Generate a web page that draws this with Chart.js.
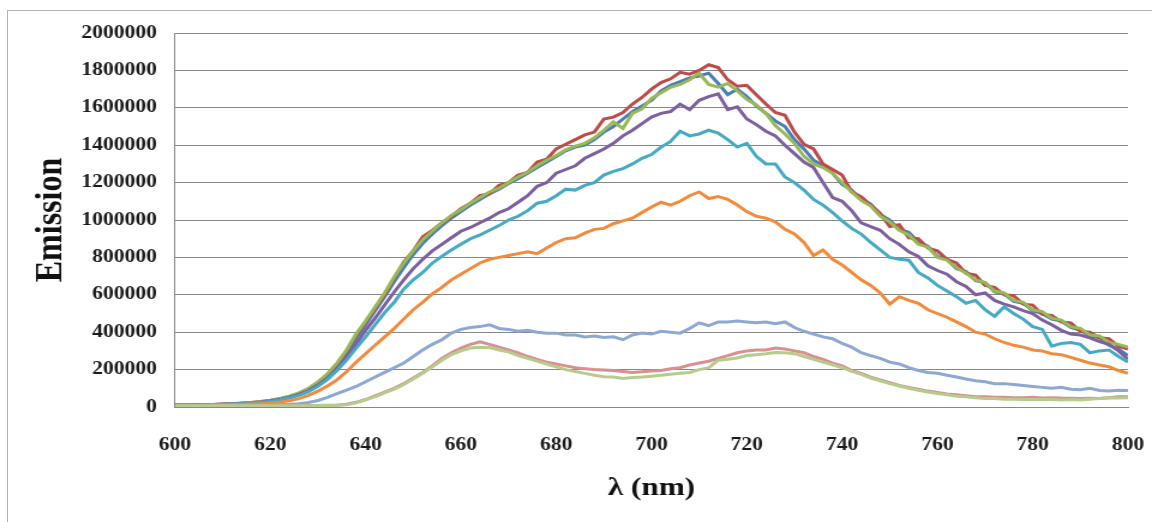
<!DOCTYPE html>
<html>
<head>
<meta charset="utf-8">
<title>Emission spectra</title>
<script src="https://cdn.jsdelivr.net/npm/chart.js@4/dist/chart.umd.min.js"></script>
<style>
  html, body { margin: 0; padding: 0; background: #fff; overflow: hidden; }
  #wrap { position: relative; width: 1152px; height: 522px; }
  /* chart is laid out at 960px and widened to the page */
  #spectra { position: absolute; left: 0; top: 0; transform: scaleX(1.2); transform-origin: 0 0; }
  #frame { position: absolute; left: 7px; top: 10px; width: 1170px; height: 540px;
           border: 1px solid #b2b2b2; pointer-events: none; }
</style>
</head>
<body>
<div id="wrap">
  <canvas id="spectra" width="960" height="522"></canvas>
  <div id="frame"></div>
</div>
<script>
// wavelength (nm), one reading every 2 nm
const wavelengths = [
  600, 602, 604, 606, 608, 610, 612, 614, 616, 618,
  620, 622, 624, 626, 628, 630, 632, 634, 636, 638,
  640, 642, 644, 646, 648, 650, 652, 654, 656, 658,
  660, 662, 664, 666, 668, 670, 672, 674, 676, 678,
  680, 682, 684, 686, 688, 690, 692, 694, 696, 698,
  700, 702, 704, 706, 708, 710, 712, 714, 716, 718,
  720, 722, 724, 726, 728, 730, 732, 734, 736, 738,
  740, 742, 744, 746, 748, 750, 752, 754, 756, 758,
  760, 762, 764, 766, 768, 770, 772, 774, 776, 778,
  780, 782, 784, 786, 788, 790, 792, 794, 796, 798,
  800
];

// emission counts, in thousands
const emissionScale = 1000;

const seriesBlue = [
  10, 11, 12, 12, 13, 15, 17, 19, 23, 27,
  33, 42, 53, 70, 92, 125, 165, 218, 285, 365,
  440, 515, 590, 670, 745, 815, 875, 925, 970, 1010,
  1045, 1080, 1110, 1140, 1165, 1195, 1220, 1250, 1280, 1310,
  1340, 1370, 1390, 1400, 1430, 1470, 1500, 1540, 1580, 1610,
  1640, 1690, 1720, 1740, 1760, 1770, 1785, 1730, 1670, 1700,
  1660, 1610, 1570, 1530, 1500, 1430, 1380, 1320, 1290, 1250,
  1190, 1160, 1110, 1085, 1030, 1000, 950, 935, 880, 860,
  805, 790, 740, 725, 675, 665, 615, 605, 565, 555,
  515, 500, 470, 460, 425, 410, 380, 370, 330, 310,
  275
];

const seriesRed = [
  12, 12, 13, 13, 14, 16, 18, 21, 24, 29,
  35, 44, 56, 72, 95, 128, 170, 228, 300, 385,
  455, 530, 600, 690, 775, 835, 910, 945, 985, 1020,
  1060, 1090, 1130, 1140, 1185, 1200, 1240, 1255, 1310, 1325,
  1380, 1405, 1430, 1455, 1470, 1540, 1550, 1575, 1620, 1655,
  1700, 1735, 1755, 1790, 1780, 1800, 1830, 1815, 1750, 1715,
  1720, 1670, 1620, 1575, 1560, 1470, 1405, 1380, 1300, 1270,
  1240, 1150, 1125, 1080, 1035, 965, 975, 905, 900, 850,
  835, 790, 770, 715, 705, 650, 640, 600, 595, 550,
  545, 495, 490, 455, 450, 405, 400, 370, 365, 325,
  310
];

const seriesGreen = [
  11, 12, 12, 13, 14, 15, 17, 20, 24, 29,
  36, 45, 58, 76, 100, 135, 178, 235, 305, 390,
  460, 535, 610, 695, 770, 835, 895, 940, 985, 1025,
  1055, 1090, 1120, 1150, 1170, 1200, 1230, 1255, 1290, 1320,
  1345, 1375, 1395, 1410, 1440, 1480, 1525, 1490, 1570, 1595,
  1650, 1680, 1710, 1725, 1750, 1785, 1725, 1710, 1730, 1690,
  1645, 1615, 1570, 1505, 1460, 1410, 1340, 1300, 1280, 1250,
  1200, 1150, 1105, 1075, 1020, 990, 945, 920, 870, 855,
  800, 785, 745, 715, 680, 665, 620, 610, 570, 560,
  520, 510, 475, 465, 430, 420, 385, 380, 345, 335,
  320
];

const seriesPurple = [
  11, 11, 12, 12, 13, 15, 17, 19, 22, 27,
  33, 41, 52, 68, 88, 118, 155, 205, 265, 335,
  410, 475, 545, 615, 680, 740, 790, 835, 870, 905,
  940, 960, 985, 1010, 1040, 1060, 1095, 1130, 1180, 1200,
  1250, 1270, 1290, 1330, 1355, 1380, 1410, 1450, 1480, 1515,
  1550, 1570, 1580, 1620, 1590, 1640, 1660, 1675, 1590, 1605,
  1540, 1510, 1475, 1450, 1400, 1355, 1310, 1280, 1200, 1120,
  1100, 1050, 985, 965, 945, 900, 870, 830, 805, 755,
  730, 710, 670, 645, 600, 610, 570, 550, 535, 515,
  500, 465, 440, 410, 390, 385, 370, 350, 335, 300,
  255
];

const seriesTeal = [
  10, 11, 11, 12, 13, 14, 16, 18, 21, 25,
  30, 38, 48, 62, 82, 110, 148, 195, 250, 315,
  375, 440, 505, 560, 630, 680, 720, 770, 805, 840,
  870, 900, 920, 945, 970, 1000, 1020, 1050, 1090, 1100,
  1130, 1165, 1160, 1185, 1200, 1240, 1260, 1275, 1300, 1330,
  1350, 1390, 1420, 1475, 1450, 1460, 1480, 1465, 1430, 1390,
  1410, 1340, 1300, 1300, 1230, 1200, 1160, 1110, 1080, 1040,
  995, 955, 925, 880, 840, 800, 790, 785, 720, 690,
  650, 620, 590, 555, 570, 520, 485, 535, 500, 470,
  430, 415, 325, 340, 345, 335, 290, 300, 305, 270,
  240
];

const seriesOrange = [
  9, 9, 10, 10, 11, 12, 13, 14, 16, 18,
  21, 26, 33, 45, 62, 85, 112, 145, 188, 240,
  285, 330, 375, 420, 470, 520, 560, 605, 640, 680,
  710, 740, 770, 790, 800, 810, 820, 830, 820, 850,
  880, 900, 905, 930, 950, 955, 980, 995, 1010, 1040,
  1070, 1095, 1080, 1100, 1130, 1150, 1115, 1125, 1110, 1080,
  1045, 1020, 1010, 990, 950, 925, 880, 810, 840, 790,
  760, 720, 680, 650, 610, 550, 590, 570, 555, 520,
  500, 480, 455, 430, 400, 390, 365, 345, 330, 320,
  305, 300, 285, 280, 265, 250, 235, 225, 215, 195,
  180
];

const seriesLightBlue = [
  8, 8, 8, 8, 9, 9, 9, 10, 10, 11,
  12, 13, 15, 18, 24, 35, 52, 72, 90, 110,
  135, 160, 185, 210, 235, 270, 305, 335, 360, 395,
  415, 425, 430, 440, 420, 415, 405, 410, 400, 395,
  395, 385, 385, 375, 380, 372, 375, 360, 385, 395,
  390, 405, 400, 395, 420, 450, 435, 455, 455, 460,
  455, 450, 455, 445, 455, 425, 405, 390, 375, 365,
  340, 320, 290, 275, 260, 240, 230, 210, 195, 185,
  180, 170, 160, 150, 140, 135, 125, 125, 120, 115,
  110, 105, 100, 105, 95, 92, 100, 88, 85, 90,
  88
];

const seriesPink = [
  7, 7, 7, 7, 7, 7, 7, 7, 7, 7,
  7, 7, 7, 7, 8, 8, 9, 10, 15, 25,
  40, 60, 80, 100, 125, 155, 185, 220, 260, 290,
  315, 335, 348, 335, 320, 305, 290, 270, 255, 240,
  230, 220, 210, 205, 200, 198, 195, 190, 185, 188,
  192, 195, 205, 210, 225, 235, 245, 260, 275, 290,
  300, 305, 305, 315, 310, 300, 290, 270, 255, 235,
  220, 195, 180, 160, 145, 130, 115, 105, 95, 85,
  78, 70, 65, 60, 55, 55, 52, 52, 50, 50,
  52, 48, 50, 48, 47, 45, 47, 45, 50, 55,
  55
];

const seriesLightGreen = [
  7, 7, 7, 7, 7, 7, 7, 7, 7, 7,
  7, 7, 7, 7, 7, 8, 8, 9, 12, 22,
  38, 55, 75, 95, 120, 150, 180, 215, 250, 280,
  300, 315, 320, 318, 305, 295, 275, 260, 245, 230,
  215, 200, 190, 180, 170, 162, 160, 152, 158, 160,
  165, 170, 175, 180, 185, 200, 210, 250, 255, 262,
  275, 280, 285, 292, 290, 285, 270, 255, 240, 225,
  210, 190, 175, 155, 140, 125, 112, 100, 90, 80,
  72, 65, 58, 55, 50, 45, 45, 42, 42, 40,
  42, 40, 40, 38, 40, 38, 42, 45, 50, 48,
  50
];

const seriesList = [
  { name: 'S1', values: seriesBlue,       color: '#4A7EBB' },
  { name: 'S2', values: seriesRed,        color: '#BE4B48' },
  { name: 'S3', values: seriesGreen,      color: '#98B954' },
  { name: 'S4', values: seriesPurple,     color: '#7D60A0' },
  { name: 'S5', values: seriesTeal,       color: '#46AAC5' },
  { name: 'S6', values: seriesOrange,     color: '#F38B3C' },
  { name: 'S7', values: seriesLightBlue,  color: '#8EA8D4' },
  { name: 'S8', values: seriesPink,       color: '#D9908E' },
  { name: 'S9', values: seriesLightGreen, color: '#B5CD8C' }
];

const xTicks = { min: 600, max: 800, step: 20 };
const yTicks = { min: 0, max: 2000000, step: 200000 };

const gridGray = '#888888';
const serifBold = (size) => ({ family: '"Liberation Serif", "Times New Roman", serif', size: size, weight: 'bold' });

// later series are painted over earlier ones
const datasets = seriesList.map((s, i) => ({
  label: s.name,
  data: s.values.map((v, j) => ({ x: wavelengths[j], y: v * emissionScale })),
  borderColor: s.color,
  backgroundColor: s.color,
  borderWidth: 3,
  pointRadius: 0,
  tension: 0,
  fill: false,
  order: seriesList.length - i
}));

new Chart(document.getElementById('spectra').getContext('2d'), {
  type: 'line',
  data: { datasets: datasets },
  options: {
    responsive: false,
    animation: false,
    devicePixelRatio: 1,
    layout: { padding: { left: 6, right: 20, top: 33, bottom: 0 } },
    plugins: { legend: { display: false }, tooltip: { enabled: false } },
    scales: {
      x: {
        type: 'linear',
        min: xTicks.min,
        max: xTicks.max,
        grid: { display: false },
        border: { display: true, color: gridGray, width: 1 },
        ticks: {
          stepSize: xTicks.step,
          color: '#1a1a1a',
          font: serifBold(18),
          padding: 20,
          maxRotation: 0
        },
        title: {
          display: true,
          text: 'λ (nm)',
          color: '#111',
          font: serifBold(26),
          padding: { top: 0, bottom: 18 }
        },
        afterFit: (scale) => {
          scale.height = 115;
          // let the "800" label hang past the plot edge
          scale.paddingRight = 20;
        }
      },
      y: {
        min: yTicks.min,
        max: yTicks.max,
        grid: { color: gridGray, lineWidth: 1, drawTicks: false },
        border: { display: true, color: gridGray, width: 1 },
        ticks: {
          stepSize: yTicks.step,
          color: '#1a1a1a',
          font: serifBold(18),
          padding: 15,
          callback: (v) => String(v)
        },
        title: {
          display: true,
          text: 'Emission',
          color: '#111',
          font: serifBold(32),
          padding: { top: 18, bottom: 0 }
        },
        afterFit: (scale) => { scale.width = 139.8; }
      }
    }
  }
});
</script>
</body>
</html>
